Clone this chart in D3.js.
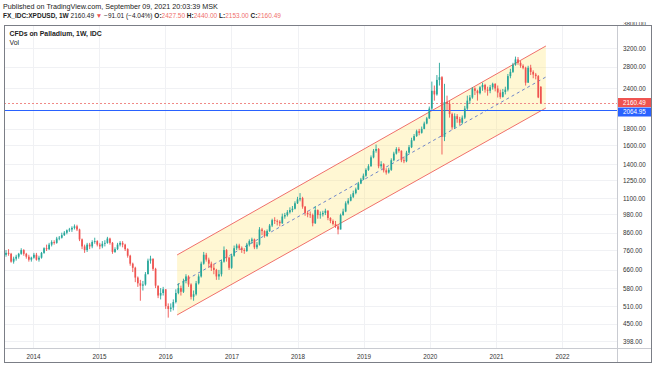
<!DOCTYPE html>
<html><head><meta charset="utf-8">
<script src="https://cdn.jsdelivr.net/npm/d3@7"></script>
<style>body{margin:0;background:#fff;}svg{display:block;}</style>
</head><body><svg id="c" width="654" height="366"></svg>
<script>
// ---- data (bi-weekly candles, open = previous close) ----
const startDate = "2013-08-05";
const stepDays = 14;
const firstOpen = 735;
const lastOpen = 2427.50;
const closes = [
 745,740,700,715,725,740,760,740,725,710,720,
 735,710,720,745,770,765,790,805,800,825,830,845,860,875,880,890,900,880,820,780,760,790,780,805,810,790,
 780,795,800,825,800,750,765,790,800,790,765,730,690,670,625,600,590,595,640,705,715,665,590,550,560,575,
 510,500,505,525,560,580,565,610,630,595,545,555,600,630,690,735,710,690,670,660,630,640,700,760,720,670,
 730,770,785,770,760,755,790,810,820,775,790,880,870,840,870,905,940,935,930,920,965,975,995,1010,1020,1060,
 1090,1100,1035,990,980,975,920,1010,975,980,990,1005,955,935,915,900,880,975,1000,1060,1080,1110,1140,1170,1220,1255,
 1290,1345,1380,1470,1540,1560,1380,1400,1340,1320,1345,1440,1510,1560,1540,1440,1430,1520,1580,1660,1710,1770,1750,1800,1870,1940,
 2080,2360,2300,2550,2600,1700,2180,2150,2000,1820,1970,1930,1880,1950,2080,2200,2250,2400,2360,2320,2420,2460,2380,2360,2420,2480,
 2400,2330,2260,2340,2380,2620,2700,2840,2950,2880,2820,2780,2500,2780,2700,2650,2620,2251.50,2160.49
];
const highs = [
 760,765,745,725,735,745,770,765,745,735,725,
 745,745,730,750,775,790,800,815,815,835,840,860,870,880,890,900,912,910,885,825,790,800,800,815,830,815,
 800,810,815,835,830,805,775,800,810,810,795,770,735,695,675,630,615,610,650,715,730,715,670,590,580,585,
 575,520,520,535,575,600,590,620,640,635,600,570,610,640,700,750,745,720,700,690,665,660,710,780,765,725,
 740,785,795,795,780,770,800,820,830,825,805,895,890,875,880,915,950,960,945,940,985,990,1010,1030,1040,1075,
 1110,1140,1110,1040,1005,1000,985,1040,1015,1000,1005,1020,1010,960,945,935,910,985,1020,1075,1100,1130,1160,1185,1235,1270,
 1310,1360,1400,1490,1560,1610,1570,1430,1410,1360,1365,1460,1530,1580,1580,1545,1470,1540,1605,1690,1735,1790,1800,1830,1895,1960,
 2110,2520,2450,2640,2880,2620,2480,2280,2200,2020,2010,2000,1960,1980,2120,2280,2290,2420,2420,2380,2440,2500,2480,2430,2460,2500,
 2490,2450,2380,2390,2430,2660,2760,2880,3010,3000,2920,2850,2800,2820,2840,2730,2680,2640,2440
];
const lows = [
 725,730,695,690,705,715,735,730,715,700,700,
 715,705,700,715,740,755,760,780,790,795,815,825,840,850,865,865,880,870,810,765,745,750,765,770,795,780,
 765,770,780,795,790,740,745,760,780,775,755,720,680,650,605,585,530,570,590,640,690,655,580,540,535,550,
 500,470,490,495,520,555,550,560,600,585,535,530,550,595,625,685,700,670,655,640,615,615,630,695,700,660,
 665,725,760,760,745,740,750,780,795,765,765,785,845,830,835,865,895,915,905,900,915,950,965,985,995,1015,
 1055,1075,1020,970,960,955,900,915,950,950,965,975,940,920,905,890,850,880,970,995,1050,1075,1100,1130,1165,1215,
 1250,1280,1335,1375,1460,1520,1360,1355,1320,1300,1310,1335,1430,1500,1520,1420,1410,1420,1510,1570,1650,1700,1720,1740,1795,1860,
 1930,2060,2200,2280,2450,1500,1650,2050,1950,1790,1800,1880,1850,1860,1930,2060,2150,2230,2290,2200,2300,2360,2330,2280,2320,2380,
 2350,2250,2230,2250,2300,2350,2580,2680,2820,2840,2780,2750,2450,2500,2640,2580,2560,2240,2153
];
const yTicks = [398,450,510,580,660,760,860,980,1100,1250,1400,1600,1800,2400,2800,3200,3800];
const yearTicks = [2014,2015,2016,2017,2018,2019,2020,2021,2022];
const channelDates = ["2016-03-07","2021-10-04"];
const channelUpper = [734,3246];
const channelLower = [479,2088];
const lastPrice = 2160.49;
const markPrice = 2064.95;

// ---- layout ----
const L=4, T=25, R=652, B=363, PR=617, PB=348;
const FONT = "'Liberation Sans', Arial, sans-serif";
const UP="#26a69a", DOWN="#ef5350";
const svg = d3.select("#c");
const parse = d3.timeParse("%Y-%m-%d");
const x = d3.scaleTime().domain([new Date(2014,0,1), new Date(2022,0,1)]).range([33,562]);
const y = d3.scaleLog().domain([398,3200]).range([341,48]);

const t0 = parse(startDate);
const n = Math.min(closes.length, highs.length, lows.length);
const candles = d3.range(n).map(i=>{
  const o = i===0 ? firstOpen : (i===n-1 ? lastOpen : closes[i-1]);
  const c = closes[i];
  return {date: d3.timeDay.offset(t0, stepDays*i), o, c,
          h: Math.max(highs[i],o,c), l: Math.min(lows[i],o,c)};
});

const defs = svg.append("defs");
defs.append("clipPath").attr("id","plot")
  .append("rect").attr("x",L).attr("y",T).attr("width",PR-L).attr("height",PB-T);
defs.append("clipPath").attr("id","axis")
  .append("rect").attr("x",PR).attr("y",T-3).attr("width",R-PR).attr("height",PB-T+2);

// grid
const grid = svg.append("g").attr("clip-path","url(#plot)");
grid.selectAll(".hg").data(yTicks).join("line")
  .attr("x1",L).attr("x2",PR).attr("y1",d=>Math.round(y(d))+0.5).attr("y2",d=>Math.round(y(d))+0.5)
  .attr("stroke","#f0f1f4").attr("stroke-width",1);
grid.selectAll(".vg").data(yearTicks).join("line")
  .attr("y1",T).attr("y2",PB).attr("x1",d=>Math.round(x(new Date(d,0,1)))+0.5).attr("x2",d=>Math.round(x(new Date(d,0,1)))+0.5)
  .attr("stroke","#f0f1f4").attr("stroke-width",1);

// channel
const plot = svg.append("g").attr("clip-path","url(#plot)");
const cx0 = x(parse(channelDates[0])), cx1 = x(parse(channelDates[1]));
plot.append("path")
  .attr("d",`M${cx0},${y(channelUpper[0])}L${cx1},${y(channelUpper[1])}L${cx1},${y(channelLower[1])}L${cx0},${y(channelLower[0])}Z`)
  .attr("fill","rgba(255,232,120,0.33)");
[channelUpper, channelLower].forEach(arr=>{
  plot.append("line").attr("x1",cx0).attr("x2",cx1).attr("y1",y(arr[0])).attr("y2",y(arr[1]))
    .attr("stroke","#f0706b").attr("stroke-width",1);
});
const mid = [Math.sqrt(channelUpper[0]*channelLower[0]), Math.sqrt(channelUpper[1]*channelLower[1])];
plot.append("line").attr("x1",cx0).attr("x2",cx1).attr("y1",y(mid[0])).attr("y2",y(mid[1]))
  .attr("stroke","#6f86c9").attr("stroke-width",1).attr("stroke-dasharray","3,3");

// price lines
plot.append("line").attr("x1",L).attr("x2",PR).attr("y1",Math.round(y(lastPrice))+0.5).attr("y2",Math.round(y(lastPrice))+0.5)
  .attr("stroke","#f08a87").attr("stroke-width",1).attr("stroke-dasharray","2,2");
plot.append("line").attr("x1",L).attr("x2",PR).attr("y1",Math.round(y(markPrice))+0.5).attr("y2",Math.round(y(markPrice))+0.5)
  .attr("stroke","#2962ff").attr("stroke-width",1);

// candles
const cg = plot.append("g");
cg.selectAll(".w").data(candles).join("line")
  .attr("x1",d=>x(d.date)).attr("x2",d=>x(d.date))
  .attr("y1",d=>y(d.h)).attr("y2",d=>y(d.l))
  .attr("stroke",d=>d.c>=d.o?UP:DOWN).attr("stroke-width",0.9);
cg.selectAll(".b").data(candles).join("rect")
  .attr("x",d=>x(d.date)-0.85).attr("width",1.7)
  .attr("y",d=>y(Math.max(d.o,d.c)))
  .attr("height",d=>Math.max(0.8, y(Math.min(d.o,d.c))-y(Math.max(d.o,d.c))))
  .attr("fill",d=>d.c>=d.o?UP:DOWN);

// right axis
const ya = svg.append("g").attr("clip-path","url(#axis)")
  .append("g").attr("transform",`translate(${PR},0)`)
  .call(d3.axisRight(y).tickValues(yTicks).tickFormat(d3.format(".2f")).tickSize(0));
ya.select(".domain").remove();
ya.selectAll("text").attr("x",6).attr("fill","#333").style("font-family",FONT).style("font-size","6.3px").attr("text-anchor","start");

// price labels (boxes pushed apart so they do not overlap)
const BOX = 9;
let yRed = y(lastPrice) - 0.7;
let yBlue = Math.max(y(markPrice), yRed + BOX + 0.5);
[[lastPrice,"#ef5350",yRed],[markPrice,"#2962ff",yBlue]].forEach(([p,col,yy])=>{
  svg.append("rect").attr("x",PR+1).attr("y",yy-BOX/2).attr("width",R-PR-2).attr("height",BOX).attr("fill",col);
  svg.append("text").attr("x",PR+6).attr("y",yy+2.3).attr("fill","#fff")
    .style("font-family",FONT).style("font-size","6.3px").text(d3.format(".2f")(p));
});

// bottom axis
const xa = svg.append("g").attr("transform",`translate(0,${PB})`)
  .call(d3.axisBottom(x).tickValues(yearTicks.map(d=>new Date(d,0,1))).tickFormat(d3.timeFormat("%Y")).tickSize(0));
xa.select(".domain").remove();
xa.selectAll("text").attr("y",6.5).attr("fill","#333").style("font-family",FONT).style("font-size","6.3px");

// frame
svg.append("line").attr("x1",PR+0.5).attr("x2",PR+0.5).attr("y1",T).attr("y2",B).attr("stroke","#c9cbd1");
svg.append("line").attr("x1",L).attr("x2",R).attr("y1",PB+0.5).attr("y2",PB+0.5).attr("stroke","#c9cbd1");
svg.append("rect").attr("x",L+0.5).attr("y",T+0.5).attr("width",R-L-1).attr("height",B-T-1)
  .attr("fill","none").attr("stroke","#7b7e86");

// header
const hdr = svg.append("g").style("font-family",FONT).attr("fill","#222");
hdr.append("text").attr("x",3).attr("y",8.5).style("font-size","7.2px")
  .text("Published on TradingView.com, September 09, 2021 20:03:39 MSK");
const l2 = hdr.append("text").attr("x",3).attr("y",17.5).style("font-size","6.5px");
l2.append("tspan").attr("font-weight","bold").text("FX_IDC:XPDUSD, 1W");
l2.append("tspan").text("  2160.49 ");
l2.append("tspan").attr("fill","#ef5350").text("▼");
l2.append("tspan").text(" −91.01 (−4.04%) ");
[["O:","2427.50"],["H:","2440.00"],["L:","2153.00"],["C:","2160.49"]].forEach(([k,v],i)=>{
  l2.append("tspan").attr("font-weight","bold").text((i?" ":"")+k);
  l2.append("tspan").attr("fill","#ef6f6c").text(v);
});
hdr.append("text").attr("x",9.5).attr("y",35.5).attr("font-weight","bold").style("font-size","6.9px").text("CFDs on Palladium, 1W, IDC");
hdr.append("text").attr("x",9.5).attr("y",44.5).style("font-size","6.9px").text("Vol");
</script></body></html>
